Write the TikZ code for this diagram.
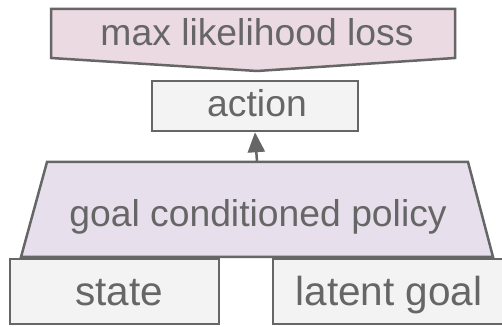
\documentclass[tikz,border=0pt]{standalone}
\usepackage{fontspec}
\setmainfont{Liberation Sans}
\usetikzlibrary{arrows.meta}
\definecolor{edge}{HTML}{666666}
\definecolor{ink}{HTML}{666666}
\definecolor{lossfill}{HTML}{EBDAE2}
\definecolor{policyfill}{HTML}{E7E0EC}
\definecolor{boxfill}{HTML}{F3F3F3}
\begin{document}
\begin{tikzpicture}[x=1pt,y=1pt,
  outline/.style={draw=edge, line width=2.5pt, line join=miter},
  txt/.style={anchor=base, text=ink, inner sep=0pt,
    font=\fontsize{37.3}{40}\selectfont},
  bigtxt/.style={txt, font=\fontsize{40.5}{44}\selectfont}]
\useasboundingbox (0,0) rectangle (502,326);
\clip (0,0) rectangle (502,326);

% loss: pentagon pointing down
\draw[outline, fill=lossfill]
  (51,317) -- (455,317) -- (455,268) -- (257,255) -- (51,268) -- cycle;
\node[txt] (losstext) at (257,280) {max likelihood loss};

% action box
\node[outline, fill=boxfill, rectangle, minimum width=206pt,
  minimum height=50pt, inner sep=0pt] (action) at (255,220) {};
\node[txt] (actiontext) at (257,209) {action};

% policy trapezoid
\draw[outline, fill=policyfill]
  (21,69) -- (47,164) -- (468,164) -- (493,69) -- cycle;
\coordinate (policytop) at (257,164);
\node[txt] (policytext) at (258,99) {goal conditioned policy};

% inputs
\draw[outline, fill=boxfill] (10,67) rectangle (219,2);
\node[bigtxt] (statetext) at (119,21) {state};
\draw[outline, fill=boxfill] (273,67) rectangle (515,2);
\node[bigtxt] (goaltext) at (389,21) {latent goal};

% policy output feeds the action
\draw[draw=edge, line width=2.5pt,
  -{Triangle[length=20pt,width=17pt]}] (policytop) -- (action.south);
\end{tikzpicture}
\end{document}
